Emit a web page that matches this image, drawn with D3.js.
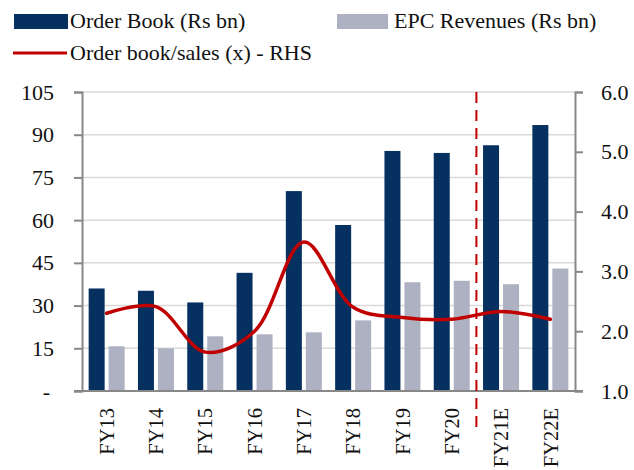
<!DOCTYPE html>
<html>
<head>
<meta charset="utf-8">
<script src="https://cdn.jsdelivr.net/npm/d3@7"></script>
<style>
  body { margin: 0; background: #fff; }
  svg text { font-family: "Liberation Serif", "DejaVu Serif", serif; fill: #111; }
</style>
</head>
<body>
<script>
// chart data
var years = ['FY13', 'FY14', 'FY15', 'FY16', 'FY17', 'FY18', 'FY19', 'FY20', 'FY21E', 'FY22E'];
var orderBook = [36.0, 35.2, 31.1, 41.5, 70.2, 58.3, 84.3, 83.6, 86.3, 93.4];
var epcRevenue = [15.7, 15.0, 19.2, 19.9, 20.6, 24.8, 38.2, 38.7, 37.5, 43.0];
var bookToSales = [2.30, 2.41, 1.65, 2.00, 3.49, 2.40, 2.23, 2.20, 2.33, 2.20];
var leftTicks = [0, 15, 30, 45, 60, 75, 90, 105];
var rightTicks = [1, 2, 3, 4, 5, 6];
var legendItems = ['Order Book (Rs bn)', 'EPC Revenues (Rs bn)', 'Order book/sales (x) - RHS'];

var width = 634,
    height = 470;

var navy = '#05305f',
    grey = '#aeb1c1',
    red = '#c00000';

// plot area (note: "top" is taken by window.top, so prefix these)
var plotLeft = 82, plotRight = 575, plotTop = 92, plotBottom = 391;

var x = d3.scaleBand()
  .domain(years)
  .range([plotLeft, plotRight]);

var yL = d3.scaleLinear().domain([0, 105]).range([plotBottom, plotTop]);
var yR = d3.scaleLinear().domain([1, 6]).range([plotBottom, plotTop]);

var svg = d3.select('body')
  .append('svg')
  .attr('width', width)
  .attr('height', height);

// gridlines
svg.append('g')
  .selectAll('line')
  .data(leftTicks.slice(1))
  .enter().append('line')
  .attr('x1', plotLeft).attr('x2', plotRight)
  .attr('y1', function(d) { return yL(d); })
  .attr('y2', function(d) { return yL(d); })
  .attr('stroke', '#d9d9d9')
  .attr('stroke-width', 1.5);

// bars
var barW = 16, gap = 2;
var cx = function(d) { return x(d) + x.bandwidth() / 2; };

svg.append('g')
  .selectAll('rect')
  .data(years)
  .enter().append('rect')
  .attr('x', function(d) { return cx(d) - gap - barW; })
  .attr('y', function(d, i) { return yL(orderBook[i]); })
  .attr('width', barW)
  .attr('height', function(d, i) { return plotBottom - yL(orderBook[i]); })
  .attr('fill', navy);

svg.append('g')
  .selectAll('rect')
  .data(years)
  .enter().append('rect')
  .attr('x', function(d) { return cx(d) + gap; })
  .attr('y', function(d, i) { return yL(epcRevenue[i]); })
  .attr('width', barW)
  .attr('height', function(d, i) { return plotBottom - yL(epcRevenue[i]); })
  .attr('fill', grey);

// axes
var axisColor = '#888';
var leftAxis = d3.axisLeft(yL)
  .tickValues(leftTicks)
  .tickSize(8)
  .tickPadding(20)
  .tickFormat(function(d) { return d === 0 ? '-' : d; });

var gL = svg.append('g')
  .attr('transform', 'translate(' + plotLeft + ',0)')
  .call(leftAxis);

var rightAxis = d3.axisRight(yR)
  .tickValues(rightTicks)
  .tickSize(8)
  .tickPadding(18)
  .tickFormat(d3.format('.1f'));

var gR = svg.append('g')
  .attr('transform', 'translate(' + plotRight + ',0)')
  .call(rightAxis);

[gL, gR].forEach(function(g) {
  g.attr('font-family', null).attr('font-size', null);
  g.select('.domain').attr('stroke', axisColor).attr('stroke-width', 2);
  g.selectAll('.tick line').attr('stroke', axisColor).attr('stroke-width', 2);
  g.selectAll('text')
    .attr('font-size', 22)
    .attr('fill', '#111');
});
gL.selectAll('text').filter(function(d) { return d === 0; }).attr('dx', -4);

// category axis line
svg.append('line')
  .attr('x1', plotLeft - 8).attr('x2', plotRight + 8)
  .attr('y1', plotBottom).attr('y2', plotBottom)
  .attr('stroke', axisColor)
  .attr('stroke-width', 2);

// category labels
svg.append('g')
  .selectAll('text')
  .data(years)
  .enter().append('text')
  .attr('transform', function(d) { return 'translate(' + cx(d) + ',408) rotate(-90)'; })
  .attr('text-anchor', 'end')
  .attr('dy', '0.35em')
  .attr('font-size', 20.5)
  .text(function(d) { return d; });

// forecast divider
svg.append('line')
  .attr('x1', x('FY21E')).attr('x2', x('FY21E'))
  .attr('y1', plotTop).attr('y2', 431)
  .attr('stroke', red)
  .attr('stroke-width', 2)
  .attr('stroke-dasharray', '11,7');

// order book / sales line
var line = d3.line()
  .x(function(d, i) { return cx(years[i]); })
  .y(function(d) { return yR(d); })
  .curve(d3.curveCatmullRom.alpha(0.5));

svg.append('path')
  .datum(bookToSales)
  .attr('d', line)
  .attr('fill', 'none')
  .attr('stroke', red)
  .attr('stroke-width', 3.5)
  .attr('stroke-linecap', 'round');

// legend
var legend = svg.append('g');
legend.append('rect').attr('x', 14).attr('y', 14).attr('width', 54).attr('height', 15).attr('fill', navy);
legend.append('text').attr('x', 70).attr('y', 28).attr('font-size', 22).text(legendItems[0]);
legend.append('rect').attr('x', 337).attr('y', 14).attr('width', 51).attr('height', 15).attr('fill', grey);
legend.append('text').attr('x', 394).attr('y', 28).attr('font-size', 22).text(legendItems[1]);
legend.append('line').attr('x1', 13).attr('x2', 67).attr('y1', 53).attr('y2', 53)
  .attr('stroke', red).attr('stroke-width', 3);
legend.append('text').attr('x', 70).attr('y', 60).attr('font-size', 22).text(legendItems[2]);
</script>
</body>
</html>
